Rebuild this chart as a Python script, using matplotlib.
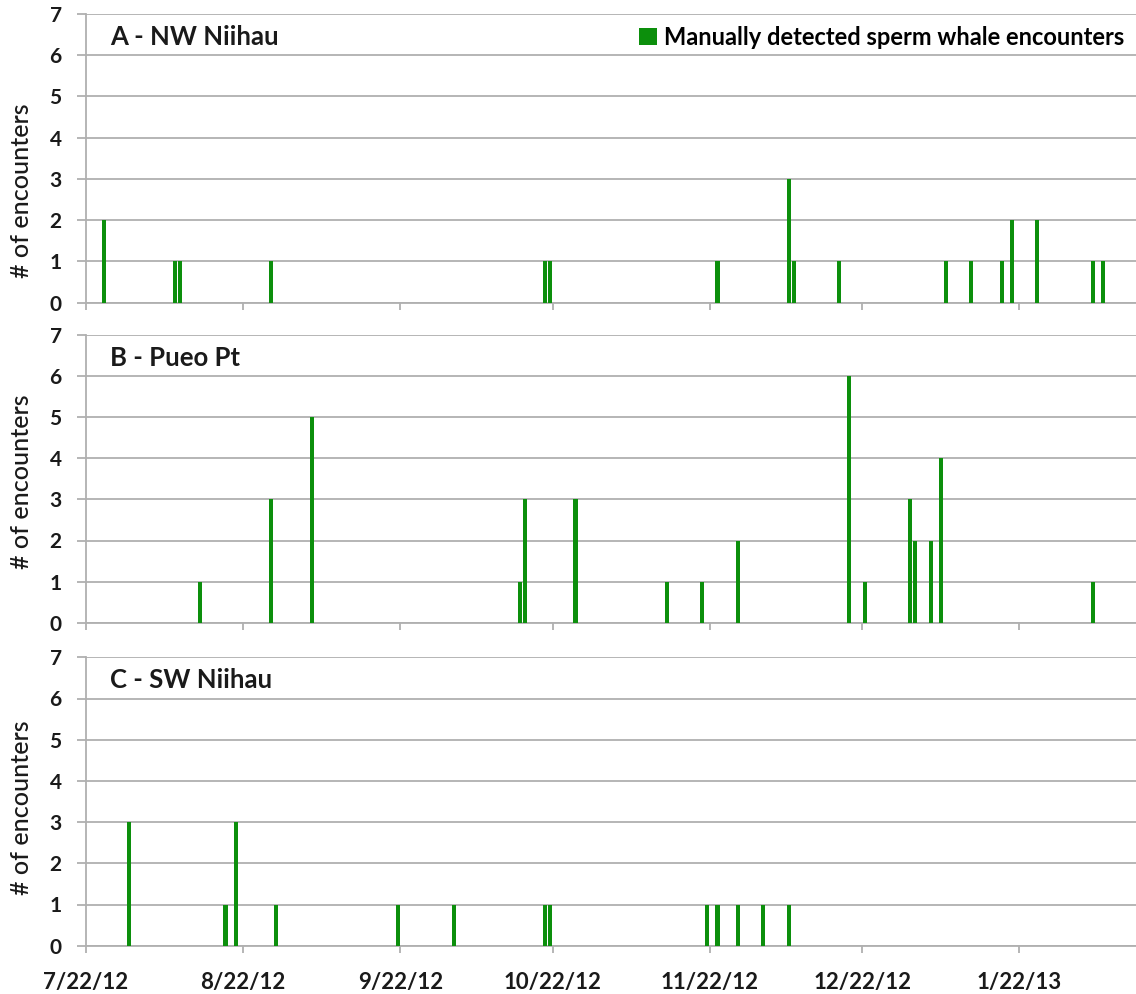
import matplotlib
matplotlib.use("Agg")
import matplotlib.pyplot as plt
import pandas as pd

# encounter dates and counts per site
site_names = ["A - NW Niihau", "B - Pueo Pt", "C - SW Niihau"]

nw_dates = ["2012-07-25", "2012-08-08", "2012-08-09", "2012-08-27", "2012-10-20",
            "2012-10-21", "2012-11-23", "2012-12-07", "2012-12-08", "2012-12-17",
            "2013-01-07", "2013-01-12", "2013-01-18", "2013-01-20", "2013-01-25",
            "2013-02-05", "2013-02-07"]
nw_counts = [2, 1, 1, 1, 1, 1, 1, 3, 1, 1, 1, 1, 1, 2, 2, 1, 1]

pueo_dates = ["2012-08-13", "2012-08-27", "2012-09-04", "2012-10-15", "2012-10-16",
              "2012-10-26", "2012-11-13", "2012-11-20", "2012-11-27", "2012-12-19",
              "2012-12-22", "2012-12-31", "2013-01-01", "2013-01-04", "2013-01-06",
              "2013-02-05"]
pueo_counts = [1, 3, 5, 1, 3, 3, 1, 1, 2, 6, 1, 3, 2, 2, 4, 1]

sw_dates = ["2012-07-30", "2012-08-18", "2012-08-20", "2012-08-28", "2012-09-21",
            "2012-10-02", "2012-10-20", "2012-10-21", "2012-11-21", "2012-11-23",
            "2012-11-27", "2012-12-02", "2012-12-07"]
sw_counts = [3, 1, 3, 1, 1, 1, 1, 1, 1, 1, 1, 1, 1]

tick_dates = ["2012-07-22", "2012-08-22", "2012-09-22", "2012-10-22",
              "2012-11-22", "2012-12-22", "2013-01-22"]
tick_labels = ["7/22/12", "8/22/12", "9/22/12", "10/22/12", "11/22/12", "12/22/12", "1/22/13"]
x_start, x_end = "2012-07-22", "2013-02-14"

legend_label = "Manually detected sperm whale encounters"
green = "#0c8f0c"
grid_col = "#b0b0b0"
text_col = "#1a1a1a"
font = "Lato"

series = [(nw_dates, nw_counts), (pueo_dates, pueo_counts), (sw_dates, sw_counts)]

fig = plt.figure(figsize=(11.36, 9.94), dpi=100)
W, H = 1136, 994
left, right = 86, 1136
panel_px = [(14, 302.7), (335, 622.7), (657.3, 945.7)]
ylabel_y = [0.387, 0.49, 0.477]

for i, ((dates, counts), name) in enumerate(zip(series, site_names)):
    top, bot = panel_px[i]
    ax = fig.add_axes([left / W, (H - bot) / H, (right - left) / W, (bot - top) / H])
    # Excel date axis: each day sits in the slot after its tick
    x = pd.to_datetime(dates) + pd.Timedelta(hours=12)
    ax.bar(x, counts, width=0.8, color=green, zorder=3, label=legend_label)

    ax.set_xlim(pd.Timestamp(x_start), pd.Timestamp(x_end))
    ax.set_ylim(0, 7)
    ax.set_yticks(range(8))
    ax.set_xticks(pd.to_datetime(tick_dates))
    if i == 2:
        ax.set_xticklabels(tick_labels, fontsize=16, fontweight="bold", family=font)
    else:
        ax.set_xticklabels([])
    ax.set_yticklabels([str(v) for v in range(8)], fontsize=15, fontweight="bold", family=font)

    ax.yaxis.grid(True, color=grid_col, lw=1.3, zorder=0)
    ax.set_axisbelow(True)
    for s in ("top", "right"):
        ax.spines[s].set_visible(False)
    for s in ("left", "bottom"):
        ax.spines[s].set_color(grid_col)
        ax.spines[s].set_linewidth(1.3)
    ax.tick_params(axis="y", length=6.5, width=1.3, color=grid_col, pad=11, labelcolor=text_col)
    ax.tick_params(axis="x", length=5, width=1.3, color=grid_col, pad=14, labelcolor=text_col)

    ax.set_ylabel("# of encounters", fontsize=18, family=font, fontweight="medium", color=text_col)
    ax.yaxis.set_label_coords(-0.05, ylabel_y[i])

    ax.text(0.023, 0.92, name, transform=ax.transAxes, fontsize=18.5, fontweight="bold",
            family=font, va="center", ha="left", color=text_col)

    if i == 0:
        ax.legend(loc="upper right", bbox_to_anchor=(1.0, 1.0), frameon=False,
                  handlelength=0.75, handleheight=0.75, handletextpad=0.3, borderaxespad=0.2,
                  borderpad=0.3, prop={"family": font, "weight": "bold", "size": 17})

fig.savefig("out.png", dpi=100)
